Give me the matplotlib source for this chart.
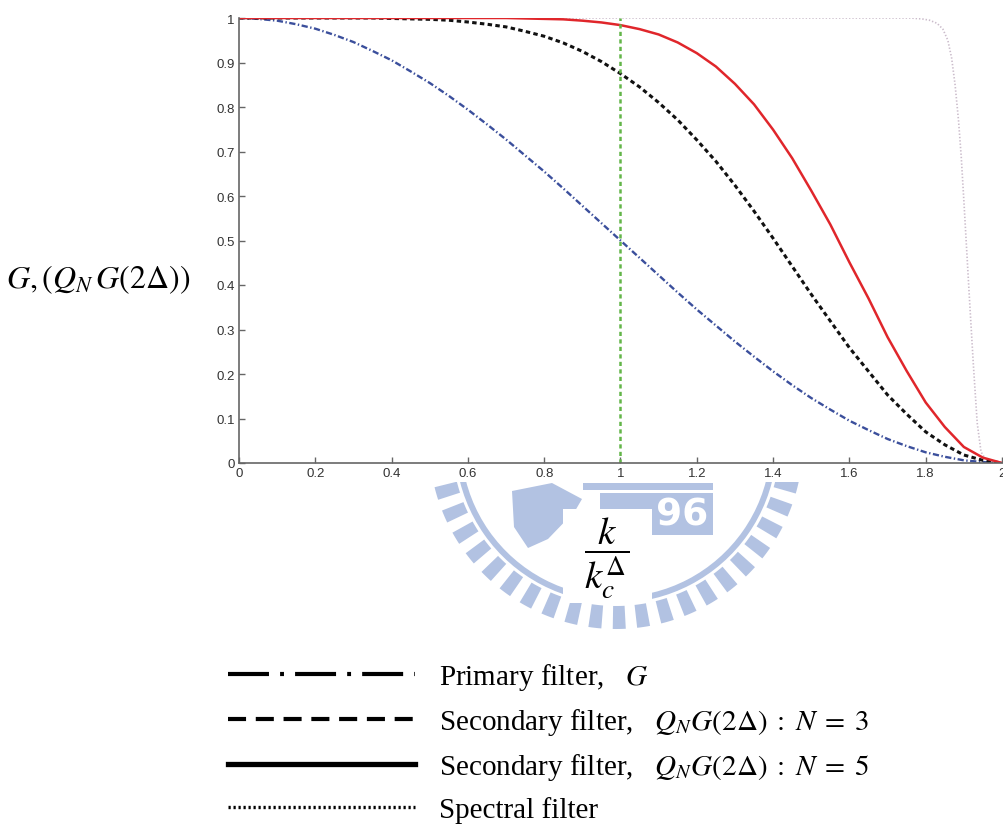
import numpy as np
import matplotlib
matplotlib.use('Agg')
import matplotlib.pyplot as plt
from matplotlib import patches
from matplotlib.lines import Line2D

plt.rcParams['mathtext.fontset'] = 'stix'
plt.rcParams['lines.scale_dashes'] = False

# k / k_c
k = [0.00, 0.05, 0.10, 0.15, 0.20, 0.25, 0.30, 0.35, 0.40, 0.45,
     0.50, 0.55, 0.60, 0.65, 0.70, 0.75, 0.80, 0.85, 0.90, 0.95,
     1.00, 1.05, 1.10, 1.15, 1.20, 1.25, 1.30, 1.35, 1.40, 1.45,
     1.50, 1.55, 1.60, 1.65, 1.70, 1.75, 1.80, 1.85, 1.90, 1.95, 2.00]

primary_G = [1.000, 0.998, 0.994, 0.986, 0.976, 0.962, 0.946, 0.926, 0.905, 0.880,
             0.854, 0.825, 0.794, 0.761, 0.727, 0.691, 0.655, 0.617, 0.578, 0.539,
             0.500, 0.461, 0.422, 0.383, 0.345, 0.309, 0.273, 0.239, 0.206, 0.175,
             0.146, 0.120, 0.095, 0.074, 0.054, 0.038, 0.024, 0.014, 0.006, 0.002, 0.000]

secondary_N3 = [1.000, 1.000, 1.000, 1.000, 1.000, 1.000, 1.000, 1.000, 0.999, 0.998,
                0.997, 0.995, 0.991, 0.986, 0.980, 0.970, 0.959, 0.944, 0.925, 0.902,
                0.875, 0.845, 0.810, 0.771, 0.726, 0.678, 0.624, 0.566, 0.505, 0.442,
                0.379, 0.319, 0.259, 0.206, 0.153, 0.110, 0.070, 0.041, 0.018, 0.006, 0.000]

secondary_N5 = [1.000, 1.000, 1.000, 1.000, 1.000, 1.000, 1.000, 1.000, 1.000, 1.000,
                1.000, 1.000, 1.000, 1.000, 1.000, 0.999, 0.998, 0.997, 0.994, 0.990,
                0.984, 0.975, 0.963, 0.945, 0.921, 0.891, 0.852, 0.806, 0.749, 0.685,
                0.612, 0.536, 0.451, 0.370, 0.283, 0.207, 0.136, 0.081, 0.036, 0.012, 0.000]

k_spec = [0.00, 1.76, 1.79, 1.81, 1.83, 1.845, 1.858, 1.868, 1.877, 1.886,
          1.893, 1.900, 1.908, 1.916, 1.925, 1.935, 1.945, 1.96, 2.00]
spectral = [1.000, 1.000, 0.998, 0.995, 0.988, 0.975, 0.950, 0.910, 0.850, 0.770,
            0.690, 0.590, 0.470, 0.350, 0.220, 0.090, 0.025, 0.004, 0.000]

k_cut = [1.0, 1.0]
cut_line = [0.0, 1.0]

xticks = [0, 0.2, 0.4, 0.6, 0.8, 1, 1.2, 1.4, 1.6, 1.8, 2]
xtick_labels = ['0', '0.2', '0.4', '0.6', '0.8', '1', '1.2', '1.4', '1.6', '1.8', '2']
yticks = [0, 0.1, 0.2, 0.3, 0.4, 0.5, 0.6, 0.7, 0.8, 0.9, 1]
ytick_labels = ['0', '0.1', '0.2', '0.3', '0.4', '0.5', '0.6', '0.7', '0.8', '0.9', '1']

legend_labels = ['Primary filter,   $G$',
                 'Secondary filter,   $Q_N G(2\\Delta)\\;:\\;N\\;=\\;3$',
                 'Secondary filter,   $Q_N G(2\\Delta)\\;:\\;N\\;=\\;5$',
                 'Spectral filter']

W, H = 1004, 829
fig = plt.figure(figsize=(W / 100, H / 100), dpi=100)

# --- marca de agua (logo) ---
wm_color = '#b2c2e2'
wm = fig.add_axes([0, 0, 1, 1], zorder=-1)
wm.set_xlim(0, W)
wm.set_ylim(H, 0)
wm.axis('off')
clip = patches.Rectangle((0, 483), W, H - 483, transform=wm.transData)
cx, cy = 616, 443
shapes = [patches.Wedge((cx, cy), 161, -20, 200, width=6)]
for ang in np.arange(-16, 200, 7.5):
    shapes.append(patches.Wedge((cx, cy), 187, ang - 2.0, ang + 2.0, width=23))
shapes.append(patches.Rectangle((583, 484), 130, 7))
shapes.append(patches.Rectangle((600, 494), 113, 42))
shapes.append(patches.Polygon([(512, 492), (552, 484), (582, 500), (575, 512),
                               (548, 540), (528, 549), (514, 528)]))
for s in shapes:
    s.set_facecolor(wm_color)
    s.set_edgecolor('none')
    wm.add_patch(s)
    s.set_clip_path(clip)
# solo se ve "96" del año, el resto queda tapado por la etiqueta
wm.text(682, 515, '96', color='white', fontsize=27, fontweight='bold',
        family='DejaVu Sans', ha='center', va='center')
wm.add_patch(patches.Rectangle((563, 510), 89, 94, facecolor='white',
                               edgecolor='none', zorder=5))
wm.text(607, 558, r'$\dfrac{k}{k_c^{\Delta}}$', fontsize=28, ha='center',
        va='center', zorder=6)

# --- grafico principal ---
ax = fig.add_axes([239 / W, 1 - 464 / H, 763 / W, 445 / H])
ax.plot(k_spec, spectral, color='#cbbccb', lw=1.2, dashes=(1.0, 1.4))
ax.plot(k, primary_G, color='#3b4f9c', lw=1.7, dashes=(4.5, 1.8, 1.0, 1.8))
ax.plot(k, secondary_N3, color='#111111', lw=2.2, dashes=(3.2, 2.4))
ax.plot(k, secondary_N5, color='#e0262b', lw=1.8)
ax.plot(k_cut, cut_line, color='#62b548', lw=1.8, dashes=(3.0, 2.4))

ax.set_xlim(0, 2)
ax.set_ylim(0, 1)
ax.set_xticks(xticks)
ax.set_xticklabels(xtick_labels)
ax.set_yticks(yticks)
ax.set_yticklabels(ytick_labels)
for side in ['top', 'right']:
    ax.spines[side].set_visible(False)
for side in ['left', 'bottom']:
    ax.spines[side].set_color('#666666')
    ax.spines[side].set_linewidth(1.2)
ax.tick_params(direction='in', length=4, width=1, color='#666666',
               labelsize=9.5, labelcolor='#333333', pad=3)
for lab in ax.get_xticklabels() + ax.get_yticklabels():
    lab.set_family('Liberation Sans')

fig.text(98 / W, 1 - 280 / H, r'$G,(Q_N\,G(2\Delta))$', fontsize=23,
         ha='center', va='center')

# --- leyenda ---
handles = [Line2D([], [], color='black', lw=3.0, dashes=(29.5, 8.0, 2.8, 8.0)),
           Line2D([], [], color='black', lw=3.0, dashes=(13.0, 7.0)),
           Line2D([], [], color='black', lw=3.8),
           Line2D([], [], color='black', lw=2.4, dashes=(1.6, 2.0))]
fig.legend(handles, legend_labels, loc='upper left',
           bbox_to_anchor=(228 / W, 1 - 662 / H), frameon=False,
           prop={'family': 'Liberation Serif', 'size': 21},
           handlelength=6.4, handletextpad=0.85, labelspacing=0.48,
           borderpad=0, borderaxespad=0)

fig.savefig('out.png', dpi=100, facecolor='white')
